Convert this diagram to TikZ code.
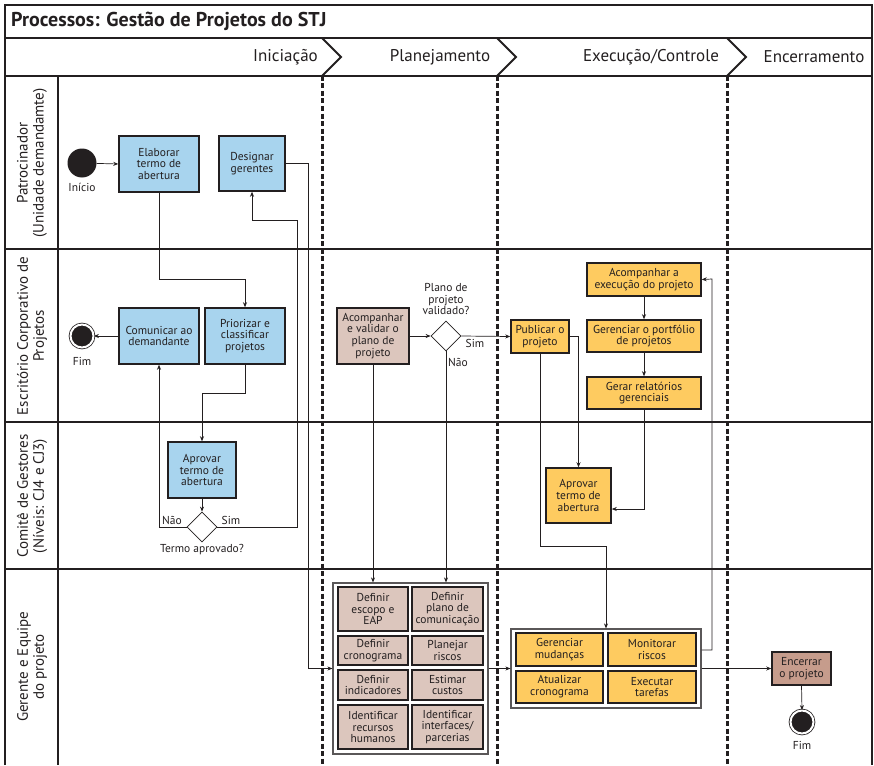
\documentclass[tikz,border=0pt]{standalone}
\usepackage{fontspec}
\setmainfont{PT Sans}
\usetikzlibrary{arrows.meta,shapes.geometric}
\definecolor{ink}{RGB}{35,31,32}
\definecolor{cblue}{RGB}{168,212,238}
\definecolor{crose}{RGB}{220,198,189}
\definecolor{cyel}{RGB}{254,203,96}
\definecolor{cbrown}{RGB}{198,156,140}
\newcommand{\bxf}{\fontsize{11.5}{11.8}\selectfont}
\begin{document}
\begin{tikzpicture}[x=1pt,y=-1pt,
  task/.style={draw=ink, line width=1.5pt, align=center, inner sep=0pt, font=\bxf, text=ink},
  tblue/.style={task, fill=cblue},
  trose/.style={task, fill=crose},
  tyel/.style={task, fill=cyel},
  tbrown/.style={task, fill=cbrown},
  grp/.style={draw=ink!75, line width=1.2pt, inner sep=0pt},
  ln/.style={draw=ink, line width=0.7pt},
  arr/.style={ln, -{Stealth[length=5pt,width=4pt]}},
  lbl/.style={font=\bxf, text=ink, inner sep=0pt, align=center},
  phase/.style={font=\fontsize{17}{20}\selectfont, text=ink, inner sep=0pt},
  lane/.style={font=\fontsize{15}{16}\selectfont, text=ink, inner sep=0pt, align=center, rotate=90},
  frame/.style={draw=ink, line width=1.6pt},
  phasesep/.style={draw=ink, line width=3pt, dash pattern=on 5pt off 2.5pt},
  dec/.style={diamond, draw=ink, line width=0.8pt, fill=white, minimum width=30pt, minimum height=30pt, inner sep=0pt},
  startev/.style={circle, fill=ink, minimum size=29pt, inner sep=0pt},
  endev/.style={circle, fill=ink, draw=ink, line width=0.8pt, double=white, double distance=2pt, minimum size=23pt, inner sep=0pt}
]
\useasboundingbox (0,0) rectangle (874,765);
\fill[white] (0,0) rectangle (874,765);

% frame and lanes
\draw[frame] (5,765) -- (5,5) -- (872,5) -- (872,765);
\draw[frame] (5,38) -- (872,38);
\draw[frame] (5,76) -- (872,76);
\draw[frame] (5,249) -- (872,249);
\draw[frame] (5,422) -- (872,422);
\draw[frame] (5,569) -- (872,569);
\draw[frame] (58,76) -- (58,765);

% phase separators
\draw[frame, line width=2pt] (322,38) -- (341,57) -- (322,76);
\draw[frame, line width=2pt] (497,38) -- (516,57) -- (497,76);
\draw[frame, line width=2pt] (727,38) -- (746,57) -- (727,76);
\draw[phasesep] (322,76) -- (322,765);
\draw[phasesep] (497,76) -- (497,765);
\draw[phasesep] (727,76) -- (727,765);

% title and headers
\node[anchor=west, font=\bfseries\fontsize{20}{23}\selectfont, text=ink, inner sep=0pt] (title) at (11,21) {Processos: Gestão de Projetos do STJ};
\node[phase, anchor=east] (ph1) at (318,57) {Iniciação};
\node[phase] (ph2) at (440,57) {Planejamento};
\node[phase] (ph3) at (651,57) {Execução/Controle};
\node[phase] (ph4) at (814,57) {Encerramento};

% lane labels
\node[lane] (l1) at (32,163) {Patrocinador\\(Unidade demandamte)};
\node[lane] (l2) at (32,336) {Escritório Corporativo de\\Projetos};
\node[lane] (l3) at (32,496) {Comitê de Gestores\\(Níveis: CJ4 e CJ3)};
\node[lane] (l4) at (32,667) {Gerente e Equipe\\do projeto};

% Iniciação
\node[startev] (ini) at (82,163) {};
\node[lbl] (inilbl) at (82,187) {Início};
\node[tblue, minimum width=80pt, minimum height=56pt] (elab) at (159,164) {Elaborar\\termo de\\abertura};
\node[tblue, minimum width=66pt, minimum height=55pt] (desig) at (252,163.5) {Designar\\gerentes};
\node[tblue, minimum width=80pt, minimum height=56pt] (comun) at (159,336) {Comunicar ao\\demandante};
\node[tblue, minimum width=80pt, minimum height=56pt] (prior) at (245,336) {Priorizar e\\classificar\\projetos};
\node[endev] (fim1) at (82,336) {};
\node[lbl] (fim1lbl) at (82,361) {Fim};
\node[tblue, minimum width=68pt, minimum height=56pt] (aprovB) at (202,470) {Aprovar\\termo de\\abertura};
\node[dec] (d1) at (202,527) {};
\node[lbl] (d1nao) at (172,520) {Não};
\node[lbl] (d1sim) at (231,520) {Sim};
\node[lbl] (d1q) at (202,550) {Termo aprovado?};

% Planejamento
\node[trose, minimum width=72pt, minimum height=56pt] (acomp) at (373,336) {Acompanhar\\e validar o\\plano de\\projeto};
\node[dec] (d2) at (446,336) {};
\node[lbl] (d2q) at (446,299) {Plano de\\projeto\\validado?};
\node[lbl] (d2sim) at (475,343) {Sim};
\node[lbl] (d2nao) at (458,362) {Não};

\node[grp, minimum width=155pt, minimum height=171pt] (pgrp) at (410.5,668.5) {};
\node[trose, minimum width=70pt, minimum height=44pt] (p11) at (373,609) {Definir\\escopo e\\EAP};
\node[trose, minimum width=71pt, minimum height=44pt] (p12) at (447.5,609) {Definir\\plano de\\comunicação};
\node[trose, minimum width=70pt, minimum height=29pt] (p21) at (373,650.5) {Definir\\cronograma};
\node[trose, minimum width=71pt, minimum height=29pt] (p22) at (447.5,650.5) {Planejar\\riscos};
\node[trose, minimum width=70pt, minimum height=30pt] (p31) at (373,685) {Definir\\indicadores};
\node[trose, minimum width=71pt, minimum height=30pt] (p32) at (447.5,685) {Estimar\\custos};
\node[trose, minimum width=70pt, minimum height=44pt] (p41) at (373,727) {Identificar\\recursos\\humanos};
\node[trose, minimum width=71pt, minimum height=44pt] (p42) at (447.5,727) {Identificar\\interfaces/\\parcerias};

% Execução/Controle
\node[tyel, minimum width=58pt, minimum height=33pt] (publ) at (540,336.5) {Publicar o\\projeto};
\node[tyel, minimum width=114pt, minimum height=33pt] (acex) at (644,279.5) {Acompanhar a\\execução do projeto};
\node[tyel, minimum width=114pt, minimum height=32pt] (gport) at (644,336) {Gerenciar o portfólio\\de projetos};
\node[tyel, minimum width=114pt, minimum height=32pt] (gerar) at (644,393) {Gerar relatórios\\gerenciais};
\node[tyel, minimum width=65pt, minimum height=55pt] (aprovY) at (578.5,495.5) {Aprovar\\termo de\\abertura};

\node[grp, minimum width=190pt, minimum height=79pt] (egrp) at (606,668.5) {};
\node[tyel, minimum width=87pt, minimum height=33pt] (e11) at (559.5,649.5) {Gerenciar\\mudanças};
\node[tyel, minimum width=88pt, minimum height=33pt] (e12) at (652,649.5) {Monitorar\\riscos};
\node[tyel, minimum width=87pt, minimum height=32pt] (e21) at (559.5,687) {Atualizar\\cronograma};
\node[tyel, minimum width=88pt, minimum height=32pt] (e22) at (652,687) {Executar\\tarefas};

% Encerramento
\node[tbrown, minimum width=59pt, minimum height=33pt] (encer) at (801.5,668.5) {Encerrar\\o projeto};
\node[endev] (fim2) at (802,722) {};
\node[lbl] (fim2lbl) at (802,745) {Fim};

% connectors
\draw[arr] (ini) -- (elab.west);
\draw[arr] (elab.south) -- (elab.south |- 0,279) -| (prior.north);
\draw[arr] (prior.south) -- (prior.south |- 0,393) -| (aprovB.north);
\draw[arr] (aprovB.south) -- (d1.north);
\draw[arr] (d1.west) -| (comun.south);
\draw[arr] (d1.east) -| (297,220) -| (desig.south);
\draw[arr] (desig.east) -| (308,668.5) -- (pgrp.west);
\draw[arr] (comun.west) -- (fim1);

\draw[arr] (acomp.east) -- (d2.west);
\draw[arr] (d2.east) -- (publ.west);
\draw[arr] (acomp.south) -- (acomp.south |- pgrp.north);
\draw[arr] (d2.south) -- (d2.south |- pgrp.north);
\draw[arr] (pgrp.east) -- (egrp.west);

\draw[arr] (publ.east) -| (aprovY.north);
\draw[arr] (publ.south) -- (publ.south |- 0,546) -| (egrp.north);
\draw[arr] (acex.south) -- (gport.north);
\draw[arr] (gport.south) -- (gerar.north);
\draw[arr] (gerar.south) |- (aprovY.east |- 0,509);
\draw[arr] (egrp.east |- 0,650) -| (712,279) -- (acex.east);
\draw[arr] (egrp.east) -- (encer.west);
\draw[arr] (encer.south) -- (fim2.north);
\end{tikzpicture}
\end{document}
